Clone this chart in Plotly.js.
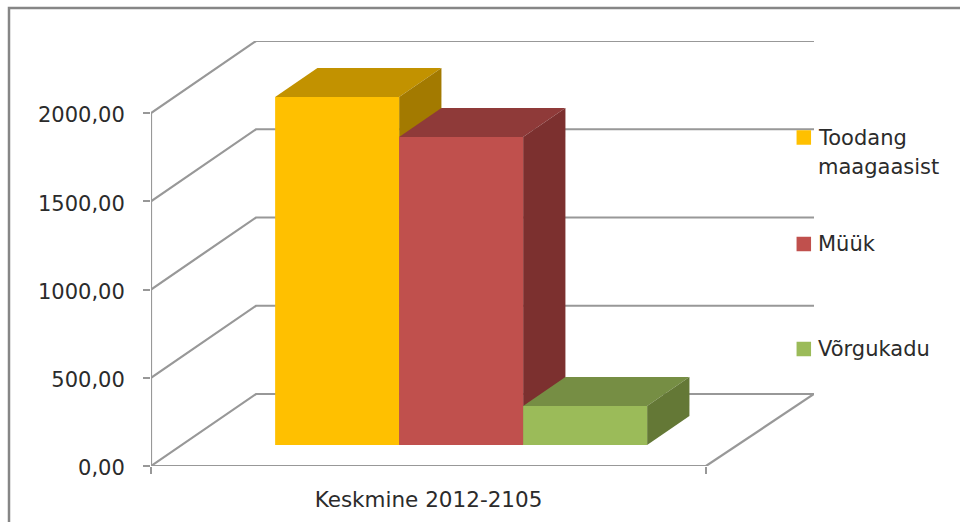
<!DOCTYPE html>
<html>
<head>
<meta charset="utf-8">
<script src="https://cdn.plot.ly/plotly-3.0.1.min.js"></script>
<style>html,body{margin:0;padding:0;background:#fff;overflow:hidden}</style>
</head>
<body>
<div id="chart" style="width:960px;height:522px"></div>
<script>
// Average gas balance, drawn as an oblique 3D column chart on 2D axes.
const category = 'Keskmine 2012-2105';
const seriesNames = ['Toodang maagaasist', 'Müük', 'Võrgukadu'];
const legendLines = ['Toodang', 'maagaasist', 'Müük', 'Võrgukadu'];
const seriesValues = [1972, 1745, 221];
const frontColors = ['#FFC000', '#C0504D', '#9BBB59'];
const topColors = ['#C29200', '#8F3A39', '#768E44'];
const sideColors = ['#A37A00', '#7C302F', '#647836'];
const tickValues = [0, 500, 1000, 1500, 2000];

const FONT = 'DejaVu Sans, sans-serif';
const TEXT = '#2b2b2b';
const GRID = '#989898';

// Plot box in pixels, and the scales that follow from it.
const W = 960, H = 522;
const box = {l: 151, r: 814, t: 41, b: 466};
const pxPerX = 555;                 // front floor edge is one x unit long
const unitsPerPx = 2000 / 353;      // value units per vertical pixel
const xMax = (box.r - box.l) / pxPerX;
const yMax = (box.b - box.t) * unitsPerPx;
const paperX = px => (px - box.l) / (box.r - box.l);
const paperY = py => (box.b - py) / (box.b - box.t);

// Oblique projection: depth 0 is the front plane, depth 1 the back wall.
const depthX = 105 / pxPerX;
const depthY = 72 * unitsPerPx;
const backRight = xMax;
const project = (x, v, d) => [x + d * depthX, v + d * depthY];

function poly(points, color) {
  const xy = points.map(p => project(p[0], p[1], p[2]));
  return {
    type: 'scatter', mode: 'lines', x: xy.map(p => p[0]).concat(xy[0][0]),
    y: xy.map(p => p[1]).concat(xy[0][1]), fill: 'toself', fillcolor: color,
    line: {width: 0}, hoverinfo: 'skip', showlegend: false, xaxis: 'x', yaxis: 'y'
  };
}

function gridTrace(xs, ys, axis) {
  return {
    type: 'scatter', mode: 'lines', x: xs, y: ys, line: {color: GRID, width: 2.2},
    hoverinfo: 'skip', showlegend: false, xaxis: axis || 'x', yaxis: 'y'
  };
}

// Walls and floor
const wallX = [], wallY = [];
tickValues.forEach(v => {
  wallX.push(0, depthX, backRight, null);
  wallY.push(v, v + depthY, v + depthY, null);
});
const traces = [
  gridTrace(wallX, wallY),
  gridTrace([1, backRight], [0, depthY]),
  gridTrace([0, 0], [0, 2000]),
  gridTrace([0, 1], [0, 0], 'x2')
];

// Columns: back faces first so each column overlaps its left neighbour.
const barStart = 93.5 / pxPerX, barWidth = 124 / pxPerX;
const depth0 = 21 / 72, depth1 = 50 / 72;
seriesValues.forEach((v, i) => {
  const a = barStart + i * barWidth, b = a + barWidth;
  traces.push(poly([[a, v, depth0], [b, v, depth0], [b, v, depth1], [a, v, depth1]], topColors[i]));
  traces.push(poly([[b, 0, depth0], [b, v, depth0], [b, v, depth1], [b, 0, depth1]], sideColors[i]));
  const front = poly([[a, 0, depth0], [b, 0, depth0], [b, v, depth0], [a, v, depth0]], frontColors[i]);
  front.name = seriesNames[i];
  traces.push(front);
});

// Legend keys and labels
const keyPx = 803.8, labelPx = 816.5;
const keyRows = [137.5, 244, 349];
const labelRows = [138, 167, 244, 349];
traces.push({
  type: 'scatter', mode: 'markers', x: keyRows.map(() => (keyPx - box.l) / pxPerX),
  y: keyRows.map(py => (box.b - py) * unitsPerPx),
  marker: {symbol: 'square', size: 14.5, color: frontColors}, cliponaxis: false,
  hoverinfo: 'skip', showlegend: false, xaxis: 'x', yaxis: 'y'
});
const annotations = legendLines.map((t, i) => ({
  xref: 'paper', yref: 'paper', x: paperX(labelPx), y: paperY(labelRows[i]),
  text: t, showarrow: false, xanchor: 'left', yanchor: 'middle', align: 'left',
  borderpad: 0, font: {family: FONT, size: 21, color: TEXT}
}));

const layout = {
  width: W, height: H, autosize: false,
  margin: {l: box.l, r: W - box.r, t: box.t, b: H - box.b, pad: 0},
  paper_bgcolor: '#ffffff', plot_bgcolor: 'rgba(0,0,0,0)', showlegend: false,
  xaxis: {
    range: [0, xMax], tickmode: 'array', tickvals: [0.5], ticktext: [category],
    ticks: '', showgrid: false, zeroline: false, showline: false,
    ticklabelstandoff: 18, tickangle: 0, tickfont: {family: FONT, size: 21.5, color: TEXT}
  },
  xaxis2: {
    range: [0, xMax], overlaying: 'x', side: 'bottom', anchor: 'y', tickmode: 'array', tickvals: [0, 1],
    ticks: 'outside', ticklen: 7, tickwidth: 2, tickcolor: GRID, showticklabels: false,
    showgrid: false, zeroline: false, showline: false
  },
  yaxis: {
    range: [0, yMax], tickmode: 'array', tickvals: tickValues, tickformat: '.2f',
    ticks: 'outside', ticklen: 7, tickwidth: 2, tickcolor: GRID, ticklabelstandoff: 14,
    ticklabelshift: 2, showgrid: false, zeroline: false, showline: false,
    tickfont: {family: FONT, size: 21, color: TEXT}
  },
  separators: ', ',
  annotations: annotations,
  shapes: [{
    type: 'rect', xref: 'paper', yref: 'paper', layer: 'below',
    x0: paperX(9), x1: paperX(975), y0: paperY(8), y1: paperY(535),
    line: {color: '#868686', width: 2.5}, fillcolor: 'rgba(0,0,0,0)'
  }]
};

Plotly.newPlot('chart', traces, layout, {displayModeBar: false, staticPlot: true});
</script>
</body>
</html>
